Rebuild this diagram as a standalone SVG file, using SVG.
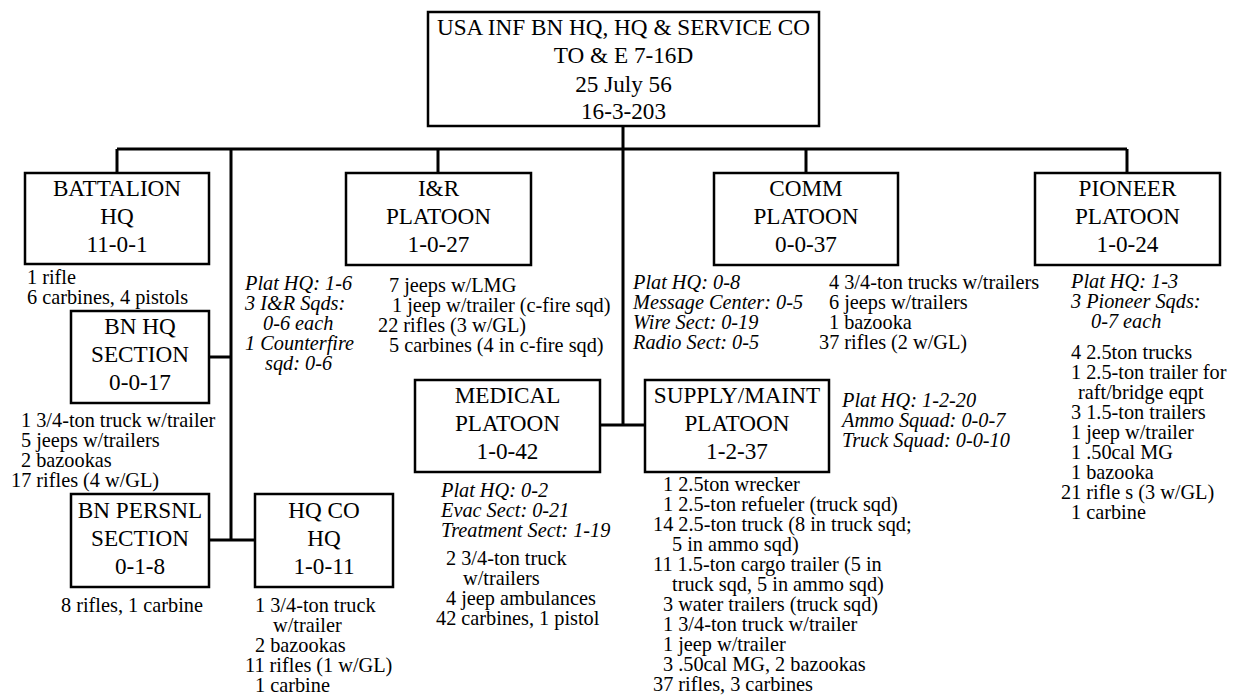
<svg xmlns="http://www.w3.org/2000/svg" width="1243" height="698" viewBox="0 0 1243 698">
<style>
.box{fill:#fff;stroke:#000;stroke-width:2.5}
.bt{font-family:'Liberation Serif','Times New Roman',Times,serif;font-size:23.2px;text-anchor:middle;fill:#000}
.n{font-family:'Liberation Serif','Times New Roman',Times,serif;font-size:20.3px;fill:#000}
.i{font-family:'Liberation Serif','Times New Roman',Times,serif;font-size:20.3px;font-style:italic;fill:#000}
.ln{fill:none;stroke:#000;stroke-width:3}
</style>
<rect width="1243" height="698" fill="#fff"/>
<g id="connectors">
<path class="ln" d="M623,126 V425 M117,149 H1127 M117,149 V173 M438,149 V173 M806,149 V173 M1127,149 V173 M231,149 V540 M209,357 H231 M209,540 H255 M600,425 H645"/>
</g>
<g id="top">
<rect class="box" x="428" y="12" width="391" height="114"/>
<text class="bt" x="623.5" y="35">USA INF BN HQ, HQ &amp; SERVICE CO</text>
<text class="bt" x="623.5" y="63">TO &amp; E 7-16D</text>
<text class="bt" x="623.5" y="92">25 July 56</text>
<text class="bt" x="623.5" y="119">16-3-203</text>
</g>
<g id="battalion-hq">
<rect class="box" x="25" y="173" width="184" height="91"/>
<text class="bt" x="117" y="196">BATTALION</text>
<text class="bt" x="117" y="224">HQ</text>
<text class="bt" x="117" y="252">11-0-1</text>
<text class="n" x="27" y="284">1 rifle</text>
<text class="n" x="27" y="304">6 carbines, 4 pistols</text>
</g>
<g id="bn-hq-section">
<rect class="box" x="71" y="311" width="138" height="92"/>
<text class="bt" x="140" y="334">BN HQ</text>
<text class="bt" x="140" y="362">SECTION</text>
<text class="bt" x="140" y="390">0-0-17</text>
<text class="n" x="21" y="427">1 3/4-ton truck w/trailer</text>
<text class="n" x="21" y="447">5 jeeps w/trailers</text>
<text class="n" x="21" y="467">2 bazookas</text>
<text class="n" x="11" y="487">17 rifles (4 w/GL)</text>
</g>
<g id="bn-persnl-section">
<rect class="box" x="71" y="494" width="138" height="93"/>
<text class="bt" x="140" y="518">BN PERSNL</text>
<text class="bt" x="140" y="546">SECTION</text>
<text class="bt" x="140" y="574">0-1-8</text>
<text class="n" x="61" y="612">8 rifles, 1 carbine</text>
</g>
<g id="hq-co-hq">
<rect class="box" x="255" y="494" width="138" height="93"/>
<text class="bt" x="324" y="518">HQ CO</text>
<text class="bt" x="324" y="546">HQ</text>
<text class="bt" x="324" y="574">1-0-11</text>
<text class="n" x="255" y="612">1 3/4-ton truck</text>
<text class="n" x="273" y="632">w/trailer</text>
<text class="n" x="255" y="652">2 bazookas</text>
<text class="n" x="245" y="672">11 rifles (1 w/GL)</text>
<text class="n" x="255" y="692">1 carbine</text>
</g>
<g id="ir-platoon">
<rect class="box" x="346" y="173" width="185" height="92"/>
<text class="bt" x="438.5" y="196">I&amp;R</text>
<text class="bt" x="438.5" y="224">PLATOON</text>
<text class="bt" x="438.5" y="252">1-0-27</text>
<text class="i" x="245" y="290">Plat HQ: 1-6</text>
<text class="i" x="245" y="310">3 I&amp;R Sqds:</text>
<text class="i" x="263" y="330">0-6 each</text>
<text class="i" x="245" y="350">1 Counterfire</text>
<text class="i" x="265" y="370">sqd: 0-6</text>
<text class="n" x="389" y="292">7 jeeps w/LMG</text>
<text class="n" x="392" y="312">1 jeep w/trailer (c-fire sqd)</text>
<text class="n" x="378" y="332">22 rifles (3 w/GL)</text>
<text class="n" x="389" y="352">5 carbines (4 in c-fire sqd)</text>
</g>
<g id="comm-platoon">
<rect class="box" x="714" y="173" width="184" height="92"/>
<text class="bt" x="806" y="196">COMM</text>
<text class="bt" x="806" y="224">PLATOON</text>
<text class="bt" x="806" y="252">0-0-37</text>
<text class="i" x="633" y="289">Plat HQ: 0-8</text>
<text class="i" x="633" y="309">Message Center: 0-5</text>
<text class="i" x="633" y="329">Wire Sect: 0-19</text>
<text class="i" x="633" y="349">Radio Sect: 0-5</text>
<text class="n" x="829" y="289">4 3/4-ton trucks w/trailers</text>
<text class="n" x="829" y="309">6 jeeps w/trailers</text>
<text class="n" x="829" y="329">1 bazooka</text>
<text class="n" x="819" y="349">37 rifles (2 w/GL)</text>
</g>
<g id="pioneer-platoon">
<rect class="box" x="1035" y="173" width="185" height="92"/>
<text class="bt" x="1127.5" y="196">PIONEER</text>
<text class="bt" x="1127.5" y="224">PLATOON</text>
<text class="bt" x="1127.5" y="252">1-0-24</text>
<text class="i" x="1071" y="288">Plat HQ: 1-3</text>
<text class="i" x="1071" y="308">3 Pioneer Sqds:</text>
<text class="i" x="1091" y="328">0-7 each</text>
<text class="n" x="1071" y="359">4 2.5ton trucks</text>
<text class="n" x="1071" y="379">1 2.5-ton trailer for</text>
<text class="n" x="1078" y="399">raft/bridge eqpt</text>
<text class="n" x="1071" y="419">3 1.5-ton trailers</text>
<text class="n" x="1071" y="439">1 jeep w/trailer</text>
<text class="n" x="1071" y="459">1 .50cal MG</text>
<text class="n" x="1071" y="479">1 bazooka</text>
<text class="n" x="1061" y="499">21 rifle s (3 w/GL)</text>
<text class="n" x="1071" y="519">1 carbine</text>
</g>
<g id="medical-platoon">
<rect class="box" x="415" y="380" width="185" height="92"/>
<text class="bt" x="507.5" y="403">MEDICAL</text>
<text class="bt" x="507.5" y="431">PLATOON</text>
<text class="bt" x="507.5" y="459">1-0-42</text>
<text class="i" x="441" y="497">Plat HQ: 0-2</text>
<text class="i" x="441" y="517">Evac Sect: 0-21</text>
<text class="i" x="441" y="537">Treatment Sect: 1-19</text>
<text class="n" x="446" y="565">2 3/4-ton truck</text>
<text class="n" x="463" y="585">w/trailers</text>
<text class="n" x="446" y="605">4 jeep ambulances</text>
<text class="n" x="436" y="625">42 carbines, 1 pistol</text>
</g>
<g id="supply-maint-platoon">
<rect class="box" x="645" y="380" width="184" height="92"/>
<text class="bt" x="737" y="403">SUPPLY/MAINT</text>
<text class="bt" x="737" y="431">PLATOON</text>
<text class="bt" x="737" y="459">1-2-37</text>
<text class="i" x="842" y="407">Plat HQ: 1-2-20</text>
<text class="i" x="842" y="427">Ammo Squad: 0-0-7</text>
<text class="i" x="842" y="447">Truck Squad: 0-0-10</text>
<text class="n" x="663" y="491">1 2.5ton wrecker</text>
<text class="n" x="663" y="511">1 2.5-ton refueler (truck sqd)</text>
<text class="n" x="653" y="531">14 2.5-ton truck (8 in truck sqd;</text>
<text class="n" x="672" y="551">5 in ammo sqd)</text>
<text class="n" x="653" y="571">11 1.5-ton cargo trailer (5 in</text>
<text class="n" x="672" y="591">truck sqd, 5 in ammo sqd)</text>
<text class="n" x="663" y="611">3 water trailers (truck sqd)</text>
<text class="n" x="663" y="631">1 3/4-ton truck w/trailer</text>
<text class="n" x="663" y="651">1 jeep w/trailer</text>
<text class="n" x="663" y="671">3 .50cal MG, 2 bazookas</text>
<text class="n" x="653" y="691">37 rifles, 3 carbines</text>
</g>
</svg>
